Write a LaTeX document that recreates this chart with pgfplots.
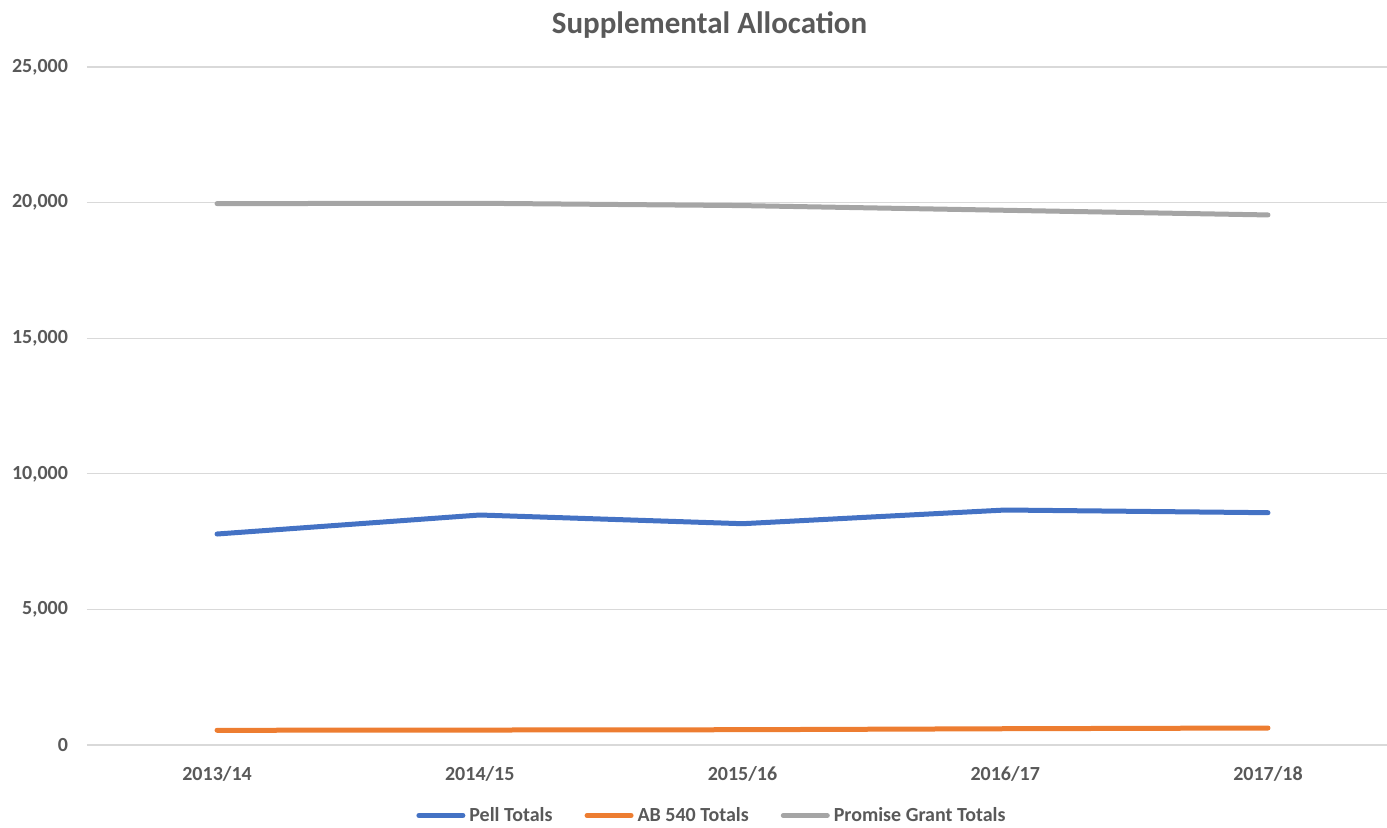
\documentclass[border=0pt]{standalone}
\usepackage{pgfplots}
\pgfplotsset{compat=1.18}
\usepackage{fontspec}
\setmainfont{Carlito}
\definecolor{txt}{HTML}{595959}
\definecolor{gridc}{HTML}{D9D9D9}
\definecolor{cblue}{HTML}{4472C4}
\definecolor{corange}{HTML}{ED7D31}
\definecolor{cgray}{HTML}{A5A5A5}
\begin{document}
\begin{tikzpicture}
\begin{axis}[
  at={(0,0)}, anchor=south west,
  scale only axis,
  width=650pt, height=339pt,
  xmin=-0.495, xmax=4.453,
  ymin=0, ymax=25000,
  axis line style={draw=none},
  xtick={0,1,2,3,4},
  xticklabels={2013/14,2014/15,2015/16,2016/17,2017/18},
  ytick={0,5000,10000,15000,20000,25000},
  major tick length=0pt,
  ymajorgrids, xmajorgrids=false,
  grid style={draw=gridc, line width=0.6pt},
  scaled y ticks=false,
  /pgf/number format/fixed,
  /pgf/number format/1000 sep={,},
  /pgf/number format/assume math mode=true,
  tick label style={font=\fontsize{10}{12}\selectfont\bfseries, text=txt},
  yticklabel style={xshift=-6pt},
  xticklabel style={yshift=-7pt},
  legend style={at={(0.4815,-0.104)}, anchor=center, draw=none, fill=none,
    legend columns=3, font=\fontsize{10}{12}\selectfont\bfseries, text=txt,
    /tikz/every even column/.append style={column sep=14pt},
    inner sep=0pt, legend cell align=left},
  legend image code/.code={\draw[#1, line width=2.5pt] (0pt,0pt) -- (22pt,0pt);},
  every axis plot/.append style={line width=2.5pt, line cap=round, line join=round},
  clip=false,
]
\addplot[cblue] coordinates {(0,7780) (1,8481) (2,8160) (3,8665) (4,8566)};
\addlegendentry{Pell Totals}
\addplot[corange] coordinates {(0,542) (1,552) (2,564) (3,600) (4,627)};
\addlegendentry{AB 540 Totals}
\addplot[cgray] coordinates {(0,19963) (1,19975) (2,19890) (3,19717) (4,19545)};
\addlegendentry{Promise Grant Totals}
\end{axis}
\node[font=\fontsize{15.5}{18}\selectfont\bfseries, text=txt] at (311.25pt,360pt) {Supplemental Allocation};
\pgfresetboundingbox
\path[use as bounding box] (-43.5pt,-41pt) rectangle (650pt,372.5pt);
\end{tikzpicture}
\end{document}
